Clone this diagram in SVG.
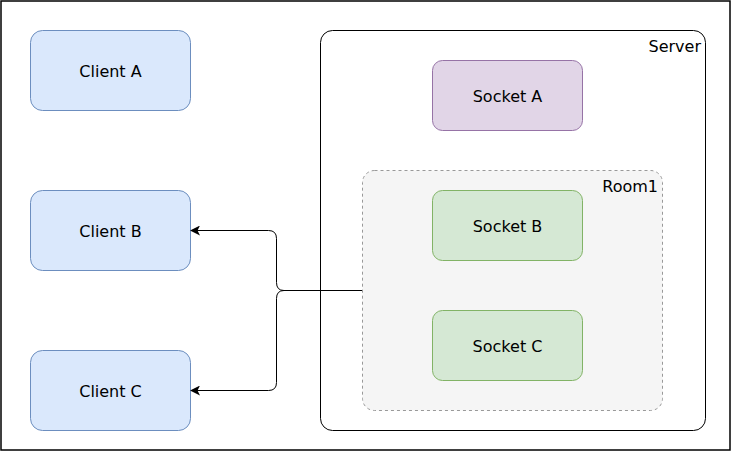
<svg xmlns="http://www.w3.org/2000/svg" width="731" height="452" viewBox="0 0 731 452">
<defs>
<style>
.t{font-family:"DejaVu Sans",Verdana,sans-serif;font-size:16px;fill:#000;text-anchor:middle;dominant-baseline:central}
.lbl{font-family:"DejaVu Sans",Verdana,sans-serif;font-size:16px;fill:#000;text-anchor:end}
.client{fill:#dae8fc;stroke:#6c8ebf;stroke-width:1}
.green{fill:#d5e8d4;stroke:#82b366;stroke-width:1}
.purple{fill:#e1d5e7;stroke:#9673a6;stroke-width:1}
.edge{fill:none;stroke:#000;stroke-width:1}
</style>
<marker id="arr" viewBox="0 0 10 10" refX="9" refY="5" markerWidth="10" markerHeight="10" markerUnits="userSpaceOnUse" orient="auto">
<path d="M0,0 L10,5 L0,10 L2.5,5 Z" fill="#000"/>
</marker>
</defs>
<rect x="0" y="0" width="731" height="452" fill="#fff"/>
<rect x="1" y="1" width="729" height="449" fill="none" stroke="#000" stroke-width="1.5"/>
<g id="server">
<rect x="320.5" y="30.5" width="385" height="400" rx="12" fill="#fff" stroke="#000"/>
<text class="lbl" x="701" y="52">Server</text>
</g>
<g id="room1">
<rect x="362.5" y="170.5" width="300" height="240" rx="12" fill="#f5f5f5" stroke="#999" stroke-dasharray="3 3"/>
<text class="lbl" x="658" y="192">Room1</text>
</g>
<g id="client-a">
<rect class="client" x="30.5" y="30.5" width="160" height="80" rx="12"/>
<text class="t" x="110.5" y="71">Client A</text>
</g>
<g id="client-b">
<rect class="client" x="30.5" y="190.5" width="160" height="80" rx="12"/>
<text class="t" x="110.5" y="231">Client B</text>
</g>
<g id="client-c">
<rect class="client" x="30.5" y="350.5" width="160" height="80" rx="12"/>
<text class="t" x="110.5" y="391">Client C</text>
</g>
<g id="socket-a">
<rect class="purple" x="432.5" y="60.5" width="150" height="70" rx="10"/>
<text class="t" x="507.5" y="96">Socket A</text>
</g>
<g id="socket-b">
<rect class="green" x="432.5" y="190.5" width="150" height="70" rx="10"/>
<text class="t" x="507.5" y="226">Socket B</text>
</g>
<g id="socket-c">
<rect class="green" x="432.5" y="310.5" width="150" height="70" rx="10"/>
<text class="t" x="507.5" y="346">Socket C</text>
</g>
<g id="connectors">
<path class="edge" d="M362,290.5 L284,290.5 Q276.5,290.5 276.5,282.5 L276.5,238.5 Q276.5,230.5 268.5,230.5 L191,230.5" marker-end="url(#arr)"/>
<path class="edge" d="M362,290.5 L284,290.5 Q276.5,290.5 276.5,298.5 L276.5,382.5 Q276.5,390.5 268.5,390.5 L191,390.5" marker-end="url(#arr)"/>
</g>
</svg>
